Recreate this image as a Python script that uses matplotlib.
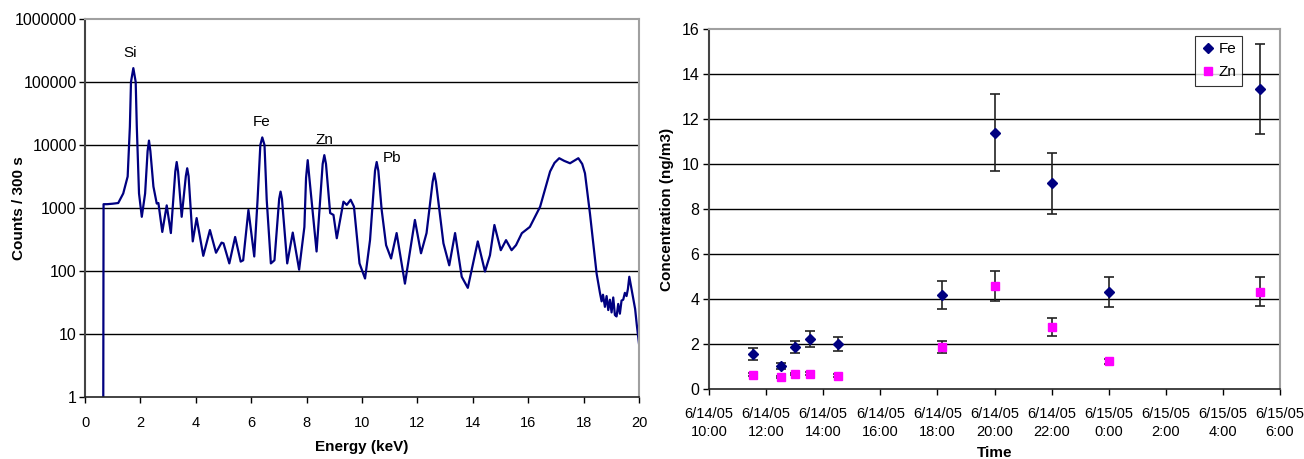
import matplotlib
matplotlib.use("Agg")
import matplotlib.pyplot as plt
import pandas as pd

plt.rcParams['font.family'] = ['Liberation Sans', 'DejaVu Sans']

# ---------------- Left chart: XRF spectrum ----------------
energy_kev = [0.66, 0.67, 0.80, 1.00, 1.20, 1.38, 1.54, 1.62, 1.66, 1.745, 1.83, 1.87, 1.95,
              2.05, 2.17, 2.26, 2.31, 2.36, 2.47, 2.59, 2.65, 2.79, 2.95, 3.10, 3.26,
              3.31, 3.36, 3.49, 3.64, 3.69, 3.74, 3.89, 4.03, 4.27, 4.51, 4.73, 4.93,
              5.00, 5.21, 5.42, 5.62, 5.71, 5.90, 6.11, 6.23, 6.33, 6.40, 6.48, 6.56,
              6.71, 6.84, 7.01, 7.06, 7.11, 7.30, 7.50, 7.73, 7.92, 7.98, 8.04, 8.10,
              8.36, 8.58, 8.64, 8.70, 8.85, 8.97, 9.09, 9.33, 9.45, 9.59, 9.71, 9.91,
              10.11, 10.29, 10.47, 10.53, 10.59, 10.71, 10.87, 11.05, 11.25, 11.55,
              11.91, 12.13, 12.33, 12.55, 12.61, 12.67, 12.94, 13.15, 13.36, 13.60,
              13.82, 14.18, 14.44, 14.62, 14.78, 15.01, 15.20, 15.40, 15.56, 15.77,
              16.06, 16.43, 16.79, 16.95, 17.12, 17.30, 17.51, 17.65, 17.81, 17.95,
              18.05, 18.23, 18.47, 18.59, 18.65, 18.70, 18.77, 18.83, 18.89, 18.95,
              19.01, 19.07, 19.13, 19.19, 19.25, 19.31, 19.37, 19.43, 19.49, 19.55,
              19.60, 19.65, 19.72, 19.80, 19.86, 19.92, 20.00]
counts = [1, 1150, 1150, 1170, 1200, 1700, 3160, 19500, 100000, 166000, 100000, 19500, 1700,
          725, 1700, 8000, 11750, 8000, 2190, 1175, 1200, 417, 1100, 400, 3800,
          5370, 3800, 725, 3200, 4270, 3200, 295, 692, 174, 447, 195, 282,
          275, 132, 347, 141, 148, 933, 170, 1350, 10000, 13200, 10000, 1350,
          132, 148, 1400, 1820, 1400, 132, 407, 105, 500, 3000, 5750, 3000,
          204, 5000, 6900, 5000, 832, 776, 331, 1260, 1120, 1350, 1050, 132,
          76, 310, 3900, 5370, 3900, 933, 257, 158, 400, 63,
          646, 191, 400, 2600, 3550, 2600, 275, 123, 400, 81,
          54, 295, 98, 178, 537, 214, 309, 214, 257, 398,
          501, 1047, 3800, 5200, 6170, 5600, 5130, 5600, 6170, 5000,
          3550, 813, 91, 45, 33, 42, 27, 40, 24, 35,
          22, 38, 20, 19, 30, 21, 34, 35, 45, 40,
          52, 81, 55, 35, 25, 14, 7]

peak_labels = ['Si', 'Fe', 'Zn', 'Pb']
peak_label_e = [1.62, 6.39, 8.63, 11.1]
peak_label_c = [290000, 23000, 12000, 6200]

# ---------------- Right chart: concentrations ----------------
sample_times = ['2005-06-14 11:32', '2005-06-14 12:31', '2005-06-14 13:00',
                '2005-06-14 13:32', '2005-06-14 14:32', '2005-06-14 18:10',
                '2005-06-14 20:00', '2005-06-14 22:00', '2005-06-15 00:00',
                '2005-06-15 05:19']
fe_conc = [1.56, 1.04, 1.85, 2.22, 2.01, 4.19, 11.39, 9.14, 4.31, 13.33]
fe_err = [0.25, 0.13, 0.27, 0.34, 0.30, 0.62, 1.70, 1.37, 0.65, 2.00]
zn_conc = [0.64, 0.52, 0.67, 0.68, 0.59, 1.85, 4.58, 2.76, 1.23, 4.33]
zn_err = [0.06, 0.05, 0.06, 0.06, 0.06, 0.27, 0.67, 0.41, 0.10, 0.65]
time_ticks = ['2005-06-14 10:00', '2005-06-14 12:00', '2005-06-14 14:00',
              '2005-06-14 16:00', '2005-06-14 18:00', '2005-06-14 20:00',
              '2005-06-14 22:00', '2005-06-15 00:00', '2005-06-15 02:00',
              '2005-06-15 04:00', '2005-06-15 06:00']
time_tick_labels = ['6/14/05\n10:00', '6/14/05\n12:00', '6/14/05\n14:00', '6/14/05\n16:00',
                    '6/14/05\n18:00', '6/14/05\n20:00', '6/14/05\n22:00', '6/15/05\n0:00',
                    '6/15/05\n2:00', '6/15/05\n4:00', '6/15/05\n6:00']

NAVY = '#000080'
MAGENTA = '#FF00FF'
FS = 11
TFS = 10.5

fig = plt.figure(figsize=(13.04, 4.59), dpi=100)

# Left axes
ax1 = fig.add_axes([85/1304, 1-397/459, (639-85)/1304, (397-19)/459])
ax1.plot(energy_kev, counts, color=NAVY, lw=1.6)
ax1.set_yscale('log')
ax1.set_ylim(1, 1e6)
ax1.set_xlim(0, 20)
ax1.set_xticks(range(0, 21, 2))
yt = [1, 10, 100, 1000, 10000, 100000, 1000000]
ax1.set_yticks(yt)
ax1.set_yticklabels([str(v) for v in yt])
ax1.yaxis.set_minor_locator(matplotlib.ticker.NullLocator())
for v in yt[1:-1]:
    ax1.axhline(v, color='black', lw=1.0, zorder=0)
for name, e, c in zip(peak_labels, peak_label_e, peak_label_c):
    ax1.text(e, c, name, ha='center', va='center', fontsize=FS)
ax1.set_xlabel('Energy (keV)', fontsize=FS, fontweight='bold')
ax1.xaxis.set_label_coords(0.5, -(440-397)/378, transform=ax1.transAxes)
ax1.set_ylabel('Counts / 300 s', fontsize=FS, fontweight='bold')
ax1.yaxis.set_label_coords(-(85-26)/554, 0.5, transform=ax1.transAxes)
ax1.tick_params(axis='y', labelsize=11.5, pad=2)
ax1.tick_params(axis='x', labelsize=TFS, pad=10)

# Right axes
ax2 = fig.add_axes([709/1304, 1-389/459, (1280-709)/1304, (389-29)/459])
t = pd.to_datetime(sample_times)
ax2.errorbar(t, fe_conc, yerr=fe_err, fmt='D', color=NAVY, ms=5.5, ecolor='#222222',
             elinewidth=1.2, capsize=3.5, capthick=1.2, label='Fe', zorder=3)
ax2.errorbar(t, zn_conc, yerr=zn_err, fmt='s', color=MAGENTA, ms=6, ecolor='#222222',
             elinewidth=1.2, capsize=3.5, capthick=1.2, label='Zn', zorder=4)
ax2.set_ylim(0, 16)
ax2.set_yticks(range(0, 17, 2))
for v in range(2, 16, 2):
    ax2.axhline(v, color='black', lw=1.0, zorder=0)
tt = pd.to_datetime(time_ticks)
ax2.set_xlim(tt[0], tt[-1])
ax2.set_xticks(tt)
ax2.set_xticklabels(time_tick_labels, linespacing=1.37)
ax2.set_xlabel('Time', fontsize=FS, fontweight='bold')
ax2.xaxis.set_label_coords(0.5, -(446-389)/360, transform=ax2.transAxes)
ax2.set_ylabel('Concentration (ng/m3)', fontsize=FS, fontweight='bold')
ax2.yaxis.set_label_coords(-(709-674)/571, 0.5, transform=ax2.transAxes)
ax2.tick_params(axis='y', labelsize=11.5, pad=3)
ax2.tick_params(axis='x', labelsize=TFS, pad=9)
h, l = ax2.get_legend_handles_labels()
h = [hh[0] for hh in h]
leg = ax2.legend(h, l, loc='upper right', bbox_to_anchor=(0.934, 0.98), fontsize=FS,
                 frameon=True, fancybox=False, edgecolor='black', handlelength=0.8,
                 handletextpad=0.3, borderpad=0.4, labelspacing=0.6, borderaxespad=0)
leg.get_frame().set_linewidth(0.8)

for ax in (ax1, ax2):
    ax.tick_params(axis='both', direction='out', length=4, width=1, color='black')
    ax.spines['left'].set_color('#444444')
    ax.spines['left'].set_linewidth(1.5)
    ax.spines['bottom'].set_color('#222222')
    ax.spines['bottom'].set_linewidth(1.2)
    ax.spines['top'].set_color('#a0a0a0')
    ax.spines['right'].set_color('#a0a0a0')
    ax.spines['top'].set_linewidth(1.5)
    ax.spines['right'].set_linewidth(1.5)

fig.savefig('out.png', dpi=100)
